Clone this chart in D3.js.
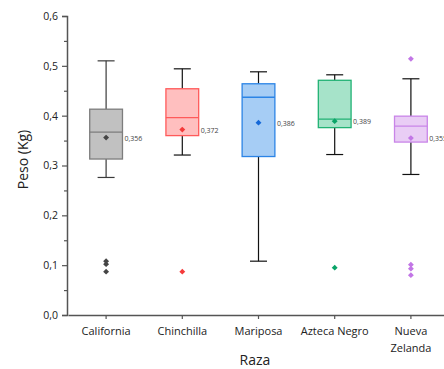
<!DOCTYPE html>
<html lang="es">
<head>
<meta charset="UTF-8">
<title>Peso por raza</title>
<script src="https://d3js.org/d3.v7.min.js"></script>
<style>
  body { margin: 0; background: #fff; }
  text { font-family: "Open Sans", "Noto Sans", sans-serif; }
</style>
</head>
<body>
<svg id="chart" width="444" height="369"></svg>
<script>
// data
const razas = ["California", "Chinchilla", "Mariposa", "Azteca Negro", "Nueva Zelanda"];
const whiskerLow  = [0.276, 0.321, 0.108, 0.322, 0.282];
const q1          = [0.313, 0.360, 0.318, 0.376, 0.347];
const medians     = [0.367, 0.396, 0.437, 0.393, 0.379];
const q3          = [0.413, 0.454, 0.464, 0.471, 0.399];
const whiskerHigh = [0.510, 0.494, 0.488, 0.482, 0.474];
const means       = [0.356, 0.372, 0.386, 0.389, 0.355];
const meanLabels  = ["0,356", "0,372", "0,386", "0,389", "0,355"];
const outliers = [
  [0.108, 0.102, 0.087],
  [0.087],
  [],
  [0.095],
  [0.514, 0.101, 0.093, 0.080]
];
const fills   = ["#c1c1c1", "#ffbfbf", "#a6cdf5", "#a6e3c9", "#e9cdf5"];
const strokes = ["#7d7d7d", "#ff5a5a", "#2b84e6", "#22b274", "#c985e8"];
const markers = ["#454545", "#f53a3a", "#1468d8", "#0aa468", "#c276e6"];
const yTicks = [0, 0.1, 0.2, 0.3, 0.4, 0.5, 0.6];

const svg = d3.select("#chart");
const margin = { left: 67, top: 16, bottom: 315 };
const fmt = d => d3.format(".1f")(d).replace(".", ",");

const x = d3.scaleBand().domain(razas).range([68, 449]).paddingInner(0.57).paddingOuter(0.285);
const y = d3.scaleLinear().domain([0, 0.6]).range([margin.bottom, margin.top]);
const bw = x.bandwidth();

// y axis
const yAxis = svg.append("g")
  .attr("transform", `translate(${margin.left},0)`)
  .call(d3.axisLeft(y).tickValues(yTicks).tickFormat(fmt).tickSize(5).tickPadding(4));
svg.append("g")
  .attr("transform", `translate(${margin.left},0)`)
  .call(d3.axisLeft(y).tickValues(d3.range(0.05, 0.6, 0.1)).tickFormat("").tickSize(3))
  .call(g => g.select(".domain").remove());

// x axis
const xAxis = svg.append("g")
  .attr("transform", `translate(0,${margin.bottom})`)
  .call(d3.axisBottom(x).tickSize(4).tickSizeOuter(0).tickFormat(""));

svg.selectAll(".domain").attr("stroke", "#555").attr("stroke-width", 1.5);
svg.selectAll(".tick line").attr("stroke", "#555").attr("stroke-width", 1.2);
yAxis.selectAll("text").attr("font-size", 10.5).attr("fill", "#222");

// category labels (wrapped by hand for two words that don't fit)
const labelLines = razas.map(r => r === "Nueva Zelanda" ? ["Nueva", "Zelanda"] : [r]);
razas.forEach((r, i) => {
  const t = svg.append("text")
    .attr("x", x(r) + bw / 2)
    .attr("y", 335)
    .attr("text-anchor", "middle")
    .attr("font-size", 11)
    .attr("fill", "#222");
  labelLines[i].forEach((line, j) => {
    t.append("tspan").attr("x", x(r) + bw / 2).attr("dy", j === 0 ? 0 : 17).text(line);
  });
});

// axis titles
svg.append("text")
  .attr("transform", `translate(28,${(margin.top + margin.bottom) / 2 - 6}) rotate(-90)`)
  .attr("text-anchor", "middle")
  .attr("font-size", 14)
  .attr("fill", "#222")
  .text("Peso (Kg)");
svg.append("text")
  .attr("x", 255)
  .attr("y", 365)
  .attr("text-anchor", "middle")
  .attr("font-size", 14)
  .attr("fill", "#222")
  .text("Raza");

const diamond = d3.symbol().type(d3.symbolDiamond2).size(22);

razas.forEach((r, i) => {
  const cx = x(r) + bw / 2;
  const g = svg.append("g");
  const whiskColor = i === 0 ? "#3a3a3a" : "#111";
  // whiskers
  g.append("line").attr("x1", cx).attr("x2", cx).attr("y1", y(whiskerHigh[i])).attr("y2", y(q3[i]))
    .attr("stroke", whiskColor).attr("stroke-width", 1.2);
  g.append("line").attr("x1", cx).attr("x2", cx).attr("y1", y(q1[i])).attr("y2", y(whiskerLow[i]))
    .attr("stroke", whiskColor).attr("stroke-width", 1.2);
  [whiskerHigh[i], whiskerLow[i]].forEach(v => {
    g.append("line").attr("x1", cx - 8.5).attr("x2", cx + 8.5).attr("y1", y(v)).attr("y2", y(v))
      .attr("stroke", whiskColor).attr("stroke-width", 1.2);
  });
  // box
  g.append("rect")
    .attr("x", x(r)).attr("width", bw)
    .attr("y", y(q3[i])).attr("height", y(q1[i]) - y(q3[i]))
    .attr("fill", fills[i]).attr("stroke", strokes[i]).attr("stroke-width", 1.3);
  g.append("line").attr("x1", x(r)).attr("x2", x(r) + bw)
    .attr("y1", y(medians[i])).attr("y2", y(medians[i]))
    .attr("stroke", strokes[i]).attr("stroke-width", 1.3);
  // mean
  g.append("path").attr("d", diamond).attr("transform", `translate(${cx},${y(means[i])})`)
    .attr("fill", markers[i]);
  g.append("text")
    .attr("x", x(r) + bw + 2)
    .attr("y", y(means[i]) + 3)
    .attr("font-size", 7)
    .attr("fill", "#444")
    .text(meanLabels[i]);
  // outliers
  g.selectAll(".out").data(outliers[i]).join("path")
    .attr("d", diamond)
    .attr("transform", d => `translate(${cx},${y(d)})`)
    .attr("fill", markers[i]);
});
</script>
</body>
</html>
